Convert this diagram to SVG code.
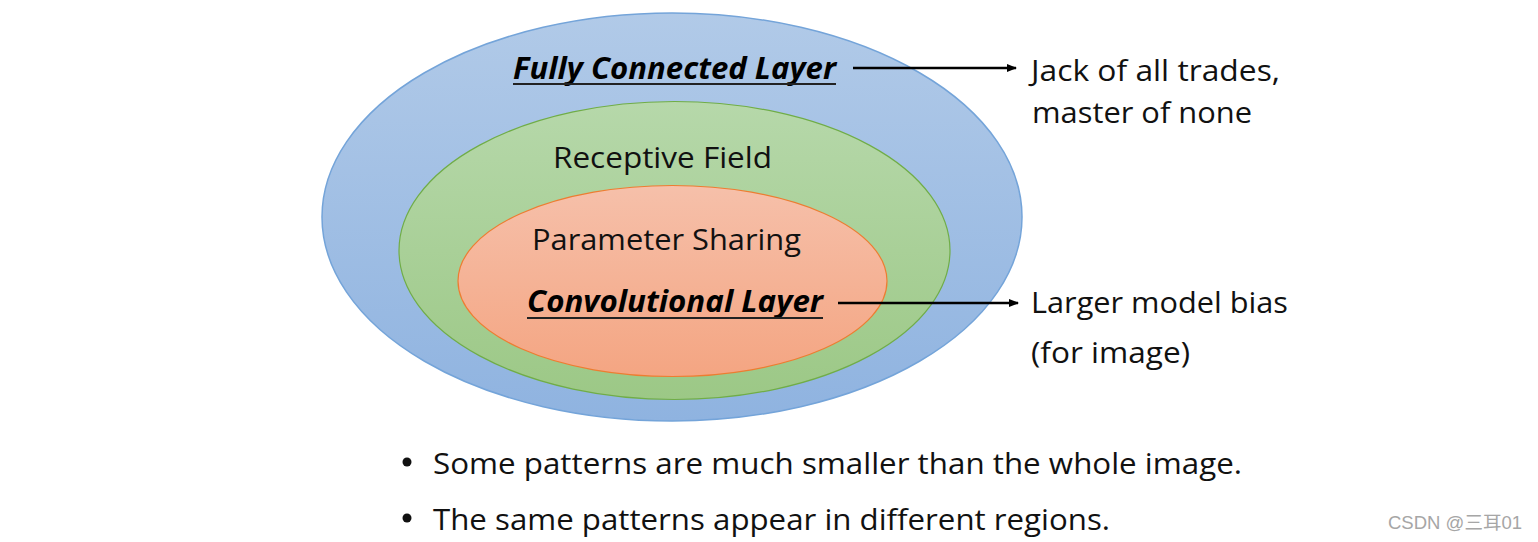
<svg xmlns="http://www.w3.org/2000/svg" width="1538" height="542" viewBox="0 0 1538 542">
<defs>
<linearGradient id="gBlue" x1="0" y1="0" x2="0" y2="1"><stop offset="0" stop-color="#b1cae8"/><stop offset="1" stop-color="#8fb3e0"/></linearGradient>
<linearGradient id="gGreen" x1="0" y1="0" x2="0" y2="1"><stop offset="0" stop-color="#b6d8aa"/><stop offset="1" stop-color="#9cc886"/></linearGradient>
<linearGradient id="gOrange" x1="0" y1="0" x2="0" y2="1"><stop offset="0" stop-color="#f6c0aa"/><stop offset="1" stop-color="#f4a582"/></linearGradient>
<marker id="arrow" viewBox="0 0 10 10" refX="9" refY="5" markerWidth="4" markerHeight="4" orient="auto" markerUnits="strokeWidth"><path d="M0,1 L10,5 L0,9 Z" fill="#000"/></marker>
<style>
.t{font-family:"Open Sans","Noto Sans",sans-serif;font-size:30px;fill:#111;}
.b{font-family:"Open Sans","Noto Sans",sans-serif;font-size:31px;font-weight:bold;font-style:italic;fill:#000;}
.ul{stroke:#222;stroke-width:2;}
.conn{stroke:#000;stroke-width:2.5;fill:none;marker-end:url(#arrow);}
.wm{font-family:"Liberation Sans","Noto Sans CJK SC",sans-serif;font-size:18px;fill:#a6a6a6;}
</style>
</defs>
<g id="fully-connected">
<ellipse cx="672" cy="217" rx="350" ry="204" fill="url(#gBlue)" stroke="#74a4d9" stroke-width="1.5"/>
<text class="b" x="513" y="79" textLength="323" lengthAdjust="spacingAndGlyphs">Fully Connected Layer</text>
<line class="ul" x1="513" y1="84" x2="836" y2="84"/>
</g>
<g id="receptive-field">
<ellipse cx="674.5" cy="250.5" rx="275.5" ry="149" fill="url(#gGreen)" stroke="#70ad47" stroke-width="1.2"/>
<text class="t" x="553" y="168" textLength="219" lengthAdjust="spacingAndGlyphs">Receptive Field</text>
</g>
<g id="parameter-sharing">
<ellipse cx="672.5" cy="281" rx="214.5" ry="95.5" fill="url(#gOrange)" stroke="#ed7d31" stroke-width="1.2"/>
<text class="t" x="532" y="250" textLength="269" lengthAdjust="spacingAndGlyphs">Parameter Sharing</text>
<text class="b" x="527" y="312" textLength="296" lengthAdjust="spacingAndGlyphs">Convolutional Layer</text>
<line class="ul" x1="527" y1="318" x2="823" y2="318"/>
</g>
<g id="connectors">
<line class="conn" x1="853" y1="68" x2="1016" y2="68"/>
<line class="conn" x1="838" y1="303" x2="1018" y2="303"/>
</g>
<g id="note-fc">
<text class="t" x="1031" y="81" textLength="249" lengthAdjust="spacingAndGlyphs">Jack of all trades,</text>
<text class="t" x="1032" y="123" textLength="220" lengthAdjust="spacingAndGlyphs">master of none</text>
</g>
<g id="note-conv">
<text class="t" x="1031" y="313" textLength="257" lengthAdjust="spacingAndGlyphs">Larger model bias</text>
<text class="t" x="1031" y="363" textLength="159" lengthAdjust="spacingAndGlyphs">(for image)</text>
</g>
<g id="bullets">
<circle cx="407" cy="462" r="4.5" fill="#111"/>
<text class="t" x="433" y="474" textLength="809" lengthAdjust="spacingAndGlyphs">Some patterns are much smaller than the whole image.</text>
<circle cx="407" cy="518" r="4.5" fill="#111"/>
<text class="t" x="433" y="530" textLength="677" lengthAdjust="spacingAndGlyphs">The same patterns appear in different regions.</text>
</g>
<text class="wm" x="1388" y="529" textLength="134" lengthAdjust="spacingAndGlyphs">CSDN @三耳01</text>
</svg>
